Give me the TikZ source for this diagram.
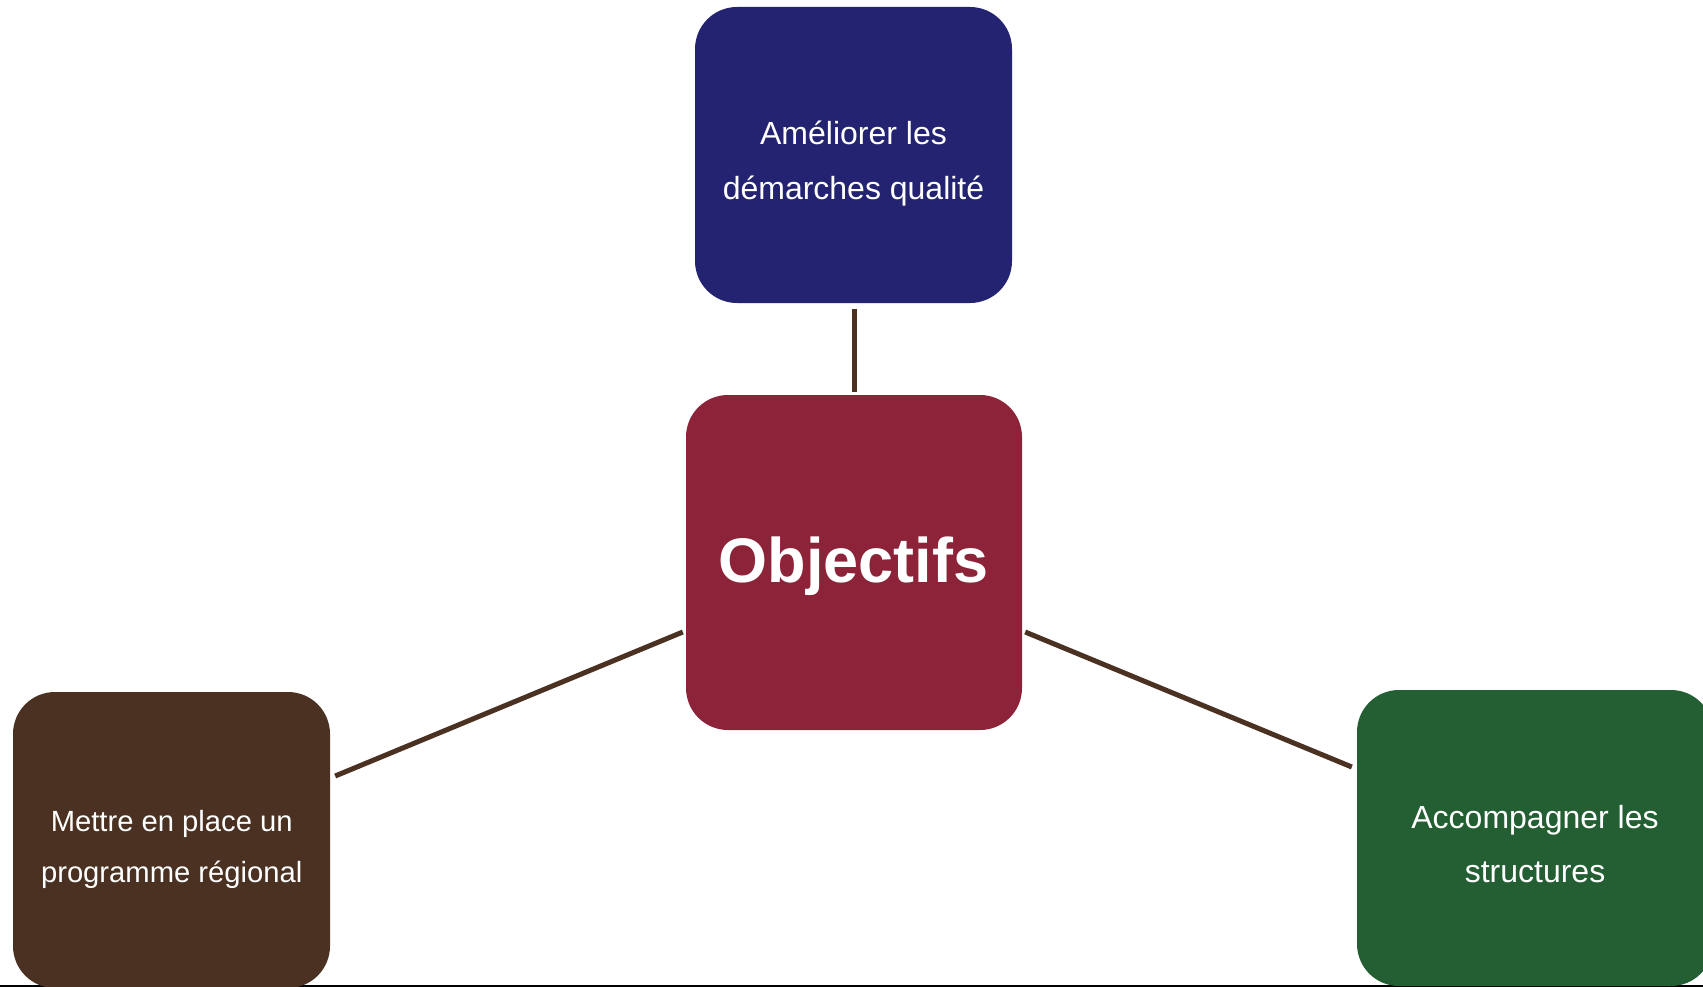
\documentclass[tikz,border=0pt]{standalone}
\usepackage{fontspec}
\setmainfont{Liberation Sans}
\usetikzlibrary{calc}

\definecolor{navybox}{RGB}{35,35,114}
\definecolor{winebox}{RGB}{140,35,57}
\definecolor{brownbox}{RGB}{74,49,33}
\definecolor{greenbox}{RGB}{36,95,51}
\definecolor{linkcol}{RGB}{74,49,33}

\tikzset{
  tile/.style={rectangle, rounded corners=42pt, inner sep=0pt, draw=none},
  caption/.style={anchor=base, inner sep=0pt, text=white,
    font=\fontsize{32}{38}\selectfont},
  smallcaption/.style={caption, font=\fontsize{29.2}{35}\selectfont},
  title/.style={anchor=base, inner sep=0pt, text=white,
    font=\fontsize{63}{70}\selectfont\bfseries},
  link/.style={draw=linkcol, line width=5pt},
}

\begin{document}
\begin{tikzpicture}[x=1pt, y=-1pt]
  \useasboundingbox (0,0) rectangle (1703,987);
  \begin{scope}
    \clip (0,0) rectangle (1703,987);

    % thin rule along the lower edge, behind the tiles
    \draw[black, line width=2pt] (0,986) -- (1703,986);

    % tiles
    \node[tile, fill=navybox, minimum width=317pt, minimum height=296pt] (top) at (853.5,155) {};
    \node[tile, fill=winebox, minimum width=336pt, minimum height=335pt] (ctr) at (854,562.5) {};
    \node[tile, fill=brownbox, minimum width=317pt, minimum height=296pt] (lft) at (171.5,840) {};
    \node[tile, fill=greenbox, minimum width=356pt, minimum height=296pt] (rgt) at (1535,838) {};

    % labels
    \node[caption] (top1) at (853.5,145) {Améliorer les};
    \node[caption] (top2) at (853.5,200) {démarches qualité};
    \node[title]   (ctr1) at (853.5,582) {Objectifs};
    \node[smallcaption] (lft1) at (171.7,831) {Mettre en place un};
    \node[smallcaption] (lft2) at (171.7,882) {programme régional};
    \node[caption] (rgt1) at (1535,828) {Accompagner les};
    \node[caption] (rgt2) at (1535,882) {structures};

    % connectors
    \draw[link] ($(top.south)+(0.5,6)$) -- ($(ctr.north)+(0,-3)$);
    \draw[link] ($(ctr.west)+(-3,69.5)$) -- ($(lft.east)+(5,-64)$);
    \draw[link] ($(ctr.east)+(3,69.5)$) -- ($(rgt.west)+(-5,-71)$);
  \end{scope}
\end{tikzpicture}
\end{document}
